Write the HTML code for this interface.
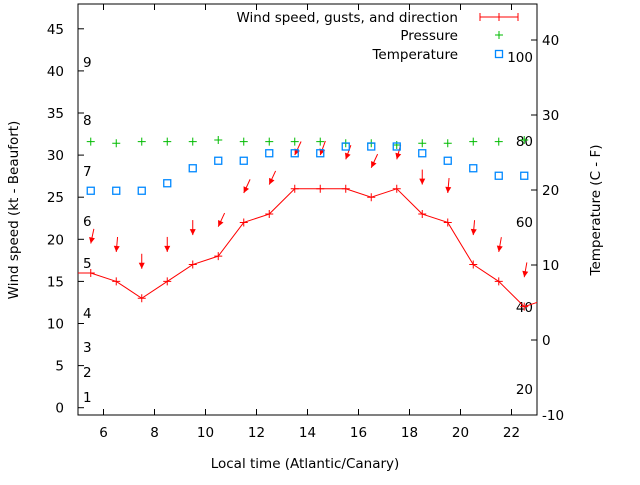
<!DOCTYPE html>
<html><head><meta charset="utf-8"><style>
body{margin:0;background:#fff}
svg text{font-family:"DejaVu Sans","Liberation Sans",sans-serif;font-size:13.5px;fill:#000}
</style></head><body>
<svg id="c" width="640" height="480" xmlns="http://www.w3.org/2000/svg"></svg>
<script>
const hours=[5.5,6.5,7.5,8.5,9.5,10.5,11.5,12.5,13.5,14.5,15.5,16.5,17.5,18.5,19.5,20.5,21.5,22.5];
const windSpeed=[16,15,13,15,17,18,22,23,26,26,26,25,26,23,22,17,15,12];
const gusts=[19.5,18.5,16.5,18.5,20.5,21.5,25.5,26.5,30,30,29.5,28.5,29.5,26.5,25.5,20.5,18.5,15.5];
const windDir=[12,5,0,0,0,25,25,25,25,20,20,25,15,0,5,5,10,10];
const pressure=[31.6,31.4,31.6,31.6,31.6,31.8,31.6,31.6,31.6,31.6,31.4,31.4,31.2,31.4,31.4,31.6,31.6,31.8];
const temperature=[19.9,19.9,19.9,20.9,22.9,23.9,23.9,24.9,24.9,24.9,25.8,25.8,25.8,24.9,23.9,22.9,21.9,21.9];
const xTicks=[6,8,10,12,14,16,18,20,22];
const yTicks=[0,5,10,15,20,25,30,35,40,45];
const y2Ticks=[-10,0,10,20,30,40];
const beaufort=[["1",397],["2",372],["3",347],["4",313],["5",263],["6",221],["7",171],["8",120],["9",62]];
const fahr=[["20",389],["40",307],["60",222],["80",141],["100",57]];
const L=78,R=537,T=4,B=415;
const X=v=>L+(v-5)/(23-5)*(R-L);
const Y=v=>407.7-v*8.42;
const Y2=v=>340-v*7.5;
const svg=document.getElementById('c');
function mk(t,a,txt){const e=document.createElementNS('http://www.w3.org/2000/svg',t);for(const k in a)e.setAttribute(k,a[k]);if(txt!==undefined)e.textContent=txt;svg.appendChild(e);return e;}
let e;
e=mk('rect',{x:L,y:T,width:R-L,height:B-T,fill:'none',stroke:'#000'});


xTicks.forEach(v=>{mk('line',{x1:X(v),x2:X(v),y1:B,y2:B-6,stroke:'#000'});mk('line',{x1:X(v),x2:X(v),y1:T,y2:T+6,stroke:'#000'});
e=mk('text',{x:X(v),y:B+22,'text-anchor':'middle'},v);

});
yTicks.forEach(v=>{mk('line',{x1:L,x2:L+6,y1:Y(v),y2:Y(v),stroke:'#000'});
e=mk('text',{x:L-14,y:Y(v)+5,'text-anchor':'end'},v);

});
y2Ticks.forEach(v=>{mk('line',{x1:R-6,x2:R,y1:Y2(v),y2:Y2(v),stroke:'#000'});
e=mk('text',{x:R+5,y:Y2(v)+5},v);

});
beaufort.forEach(b=>{e=mk('text',{x:83,y:b[1]+5},b[0]);

});
fahr.forEach(b=>{e=mk('text',{x:533,y:b[1]+5,'text-anchor':'end'},b[0]);

});
let pts=[[L,Y(windSpeed[0])]].concat(hours.map((h,i)=>[X(h),Y(windSpeed[i])])).concat([[R,Y(12.5)]]);
e=mk('polyline',{points:pts.map(p=>p.join(',')).join(' '),fill:'none',stroke:'#f00','stroke-width':1});


hours.forEach((h,i)=>{const x=X(h),y=Y(windSpeed[i]);
e=mk('path',{d:`M${x-4},${y}H${x+4}M${x},${y-4}V${y+4}`,stroke:'#f00'});

});
hours.forEach((h,i)=>{const x=X(h),y=Y(gusts[i]);const a=windDir[i]*Math.PI/180;const len=15;
const tx=x+Math.sin(a)*len,ty=y-Math.cos(a)*len;
const ux=(x-tx)/len,uy=(y-ty)/len;const bx=x-ux*6,by=y-uy*6;
e=mk('g',{});


const l=document.createElementNS('http://www.w3.org/2000/svg','line');l.setAttribute('x1',tx);l.setAttribute('y1',ty);l.setAttribute('x2',x);l.setAttribute('y2',y);l.setAttribute('stroke','#f00');e.appendChild(l);
const p=document.createElementNS('http://www.w3.org/2000/svg','polygon');p.setAttribute('points',`${x},${y} ${bx-uy*3},${by+ux*3} ${bx+uy*3},${by-ux*3}`);p.setAttribute('fill','#f00');e.appendChild(p);});
hours.forEach((h,i)=>{const x=X(h),y=Y(pressure[i]);
e=mk('path',{d:`M${x-4},${y}H${x+4}M${x},${y-4}V${y+4}`,stroke:'#0b0'});

});
hours.forEach((h,i)=>{const x=X(h),y=Y2(temperature[i]);
e=mk('rect',{x:x-3.5,y:y-3.5,width:7,height:7,fill:'none',stroke:'#08f','stroke-width':1.3});

});
const leg=[["Wind speed, gusts, and direction",17,'w'],["Pressure",35,'p'],["Temperature",54,'t']];
leg.forEach(r=>{e=mk('text',{x:458,y:r[1]+5,'text-anchor':'end'},r[0]);


const y=r[1];
if(r[2]=='w'){mk('path',{d:`M480,${y}H518M480,${y-4}V${y+4}M518,${y-4}V${y+4}M499,${y-4}V${y+4}`,stroke:'#f00'});}
else if(r[2]=='p'){mk('path',{d:`M495,${y}H503M499,${y-4}V${y+4}`,stroke:'#0b0'});}
else mk('rect',{x:495.5,y:y-3.5,width:7,height:7,fill:'none',stroke:'#08f','stroke-width':1.3});});
e=mk('text',{x:305,y:468,'text-anchor':'middle'},'Local time (Atlantic/Canary)');


e=mk('text',{x:0,y:0,'text-anchor':'middle',transform:'translate(18,210) rotate(-90)'},'Wind speed (kt - Beaufort)');


e=mk('text',{x:0,y:0,'text-anchor':'middle',transform:'translate(600,210) rotate(-90)'},'Temperature (C - F)');


</script>
</body></html>
